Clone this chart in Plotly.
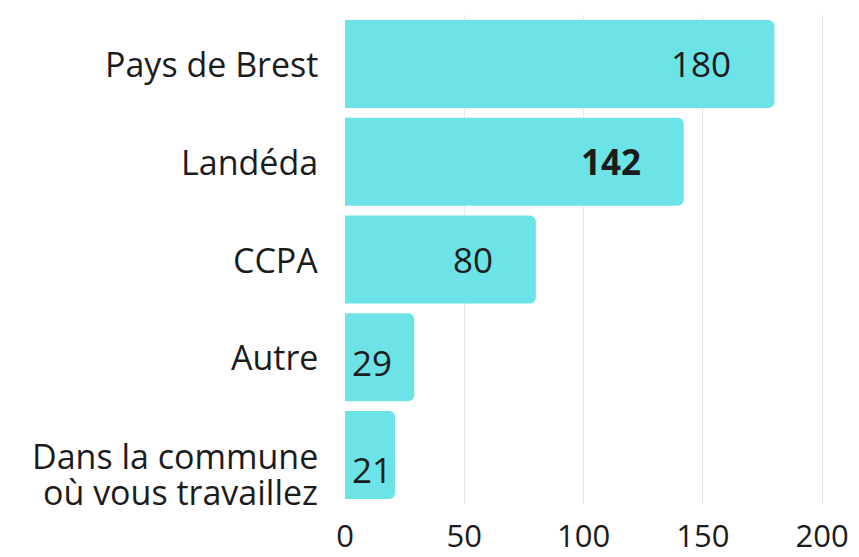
import plotly.graph_objects as go

categories = ["Pays de Brest", "Landéda", "CCPA", "Autre", "Dans la commune<br>où vous travaillez"]
values = [180, 142, 80, 29, 21]
bold_flags = [False, True, False, False, False]
tick_vals = [0, 50, 100, 150, 200]
tick_text = ["0", "50", "100", "150", "200"]

FONT = "Open Sans"
BAR_COLOR = "#6ce3e6"
TEXT_COLOR = "#1c1c1c"
CAT_SIZE = 34
VAL_SIZE = 35
TICK_SIZE = 31
LINE_GAP = 36          # px between lines of a wrapped category label
# vertical nudges (px, positive = up) used by the reference for the lower rows
value_dy = {categories[3]: -5, categories[4]: -14}
label_dy = {categories[4]: -1}

fig = go.Figure()
fig.add_trace(go.Bar(
    y=categories,
    x=values,
    orientation="h",
    marker=dict(color=BAR_COLOR, line=dict(width=0), cornerradius=6),
    hoverinfo="skip",
))

annotations = []
# value labels
for cat, v, b in zip(categories, values, bold_flags):
    txt = f"<b>{v}</b>" if b else str(v)
    dy = value_dy.get(cat, 0)
    if v >= 40:
        annotations.append(dict(x=v, y=cat, xref="x", yref="y", text=txt,
                                xanchor="right", yanchor="middle", xshift=-41, yshift=dy,
                                showarrow=False,
                                font=dict(family=FONT, size=VAL_SIZE, color=TEXT_COLOR)))
    else:
        annotations.append(dict(x=0, y=cat, xref="x", yref="y", text=txt,
                                xanchor="left", yanchor="middle", xshift=5, yshift=dy,
                                showarrow=False,
                                font=dict(family=FONT, size=VAL_SIZE, color=TEXT_COLOR)))

# category labels (one annotation per line to control line spacing)
for cat in categories:
    lines = cat.split("<br>")
    base = label_dy.get(cat, 0)
    for k, line in enumerate(lines):
        annotations.append(dict(x=0, y=cat, xref="x", yref="y", text=line,
                                xanchor="right", yanchor="middle", xshift=-25,
                                yshift=base - k * LINE_GAP,
                                showarrow=False,
                                font=dict(family=FONT, size=CAT_SIZE, color=TEXT_COLOR)))

fig.update_layout(
    width=851, height=549,
    margin=dict(l=337, r=25, t=7, b=53, autoexpand=False),
    paper_bgcolor="white", plot_bgcolor="white",
    bargap=0.1,
    showlegend=False,
    annotations=annotations,
    font=dict(family=FONT, size=30, color=TEXT_COLOR),
    xaxis=dict(range=[0, 205], tickvals=tick_vals, ticktext=tick_text,
               showgrid=True, gridcolor="#e8e8e8", gridwidth=1,
               zeroline=False, showline=False, ticks="",
               tickfont=dict(family=FONT, size=TICK_SIZE, color=TEXT_COLOR),
               ticklabelstandoff=11, fixedrange=True),
    yaxis=dict(autorange="reversed", showgrid=False, zeroline=False,
               showline=False, ticks="", showticklabels=False,
               fixedrange=True),
)

fig.write_html("out.html")
